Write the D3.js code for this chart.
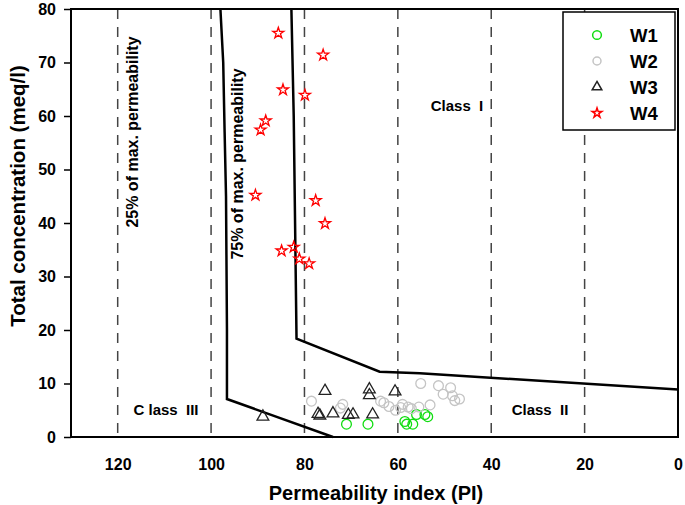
<!DOCTYPE html>
<html><head><meta charset="utf-8">
<script src="https://cdn.jsdelivr.net/npm/d3@7"></script>
<style>
body{margin:0;background:#fff;}
svg{display:block;font-family:"Liberation Sans",Arial,sans-serif;}
</style></head>
<body><svg id="c" width="685" height="505"></svg>
<script>
// ---- data ----
const xTicks = [120,100,80,60,40,20,0];
const yTicks = [0,10,20,30,40,50,60,70,80];
const dashedPI = [120,100,80,60,40,20];
const seriesNames = ["W1","W2","W3","W4"];
const w1 = [[71.0,2.4],[66.4,2.4],[58.5,2.9],[58.1,2.4],[56.8,2.4],[56.0,4.2],[54.2,4.2],[53.6,3.8]];
const w2 = [[78.5,6.7],[71.8,6.1],[72.3,5.4],[63.7,6.7],[63.0,6.4],[61.9,5.7],[59.4,5.5],[59.0,6.1],[57.8,5.6],[57.1,5.3],[55.5,5.6],[53.1,6.0],[55.1,10.0],[51.3,9.6],[48.7,9.2],[50.3,8.0],[48.3,7.7],[46.8,7.1],[47.8,6.8],[60.5,5.0]];
const w3 = [[88.9,3.8],[75.6,8.6],[77.1,4.3],[76.7,4.0],[73.9,4.4],[70.6,4.1],[69.6,4.2],[66.1,8.9],[66.1,7.8],[65.4,4.2],[60.6,8.5]];
const w4 = [[85.6,75.5],[76.0,71.4],[84.6,64.9],[79.9,63.9],[88.3,59.1],[89.4,57.4],[90.5,45.2],[77.6,44.2],[75.6,39.9],[84.9,34.8],[82.3,35.5],[81.1,33.3],[79.0,32.4]];
const line75 = [[98.0,80],[97.4,70],[97.1,57],[96.8,45],[96.6,20],[96.6,7.1],[73.9,0]];
const line25 = [[82.8,80],[82.3,60],[81.7,18.4],[63.9,12.2],[55.3,11.9],[0,8.9]];

// ---- layout ----
const svg = d3.select("#c");
const L=71,R=678,T=9,B=437;
const x = d3.scaleLinear().domain([130,0]).range([L,R]);
const y = d3.scaleLinear().domain([0,80]).range([B,T]);

// dashed vertical lines
svg.selectAll(".dl").data(dashedPI).join("line")
  .attr("x1",d=>x(d)).attr("x2",d=>x(d)).attr("y1",y(80)).attr("y2",y(0))
  .attr("stroke","#444").attr("stroke-width",1.5).attr("stroke-dasharray","10,8");

// boundary lines
const lg = d3.line().x(d=>x(d[0])).y(d=>y(d[1]));
[line75,line25].forEach(l=>svg.append("path").attr("d",lg(l)).attr("fill","none")
  .attr("stroke","#000").attr("stroke-width",2.5).attr("stroke-linejoin","miter"));

// frame
svg.append("rect").attr("x",L).attr("y",T).attr("width",R-L).attr("height",B-T)
  .attr("fill","none").attr("stroke","#000").attr("stroke-width",2);

// axes
const yAx = svg.append("g").attr("transform",`translate(${L},0)`)
  .call(d3.axisLeft(y).tickValues(yTicks).tickSize(7).tickPadding(8));
const xAx = svg.append("g").attr("transform",`translate(0,${B})`)
  .call(d3.axisBottom(x).tickValues(xTicks).tickSize(0).tickPadding(22));
[yAx,xAx].forEach(g=>{
  g.select(".domain").remove();
  g.selectAll("text").attr("font-size",16).attr("font-weight","bold").attr("fill","#000")
    .attr("font-family","Liberation Sans, Arial, sans-serif");
  g.selectAll("line").attr("stroke","#000").attr("stroke-width",1.5);
});

// axis titles
svg.append("text").attr("x",376).attr("y",500).attr("text-anchor","middle")
  .attr("font-size",20).attr("font-weight","bold").text("Permeability index (PI)");
svg.append("text").attr("transform","translate(17,196) rotate(-90)").attr("text-anchor","middle")
  .attr("dominant-baseline","central")
  .attr("font-size",20.5).attr("font-weight","bold").text("Total concentration (meq/l)");

// annotations
const ann = (t,xx,yy,rot,fs)=>svg.append("text")
  .attr("transform",`translate(${xx},${yy})`+(rot?" rotate(-90)":""))
  .attr("text-anchor","middle").attr("dominant-baseline","central")
  .attr("font-size",fs).attr("font-weight","bold").style("white-space","pre").text(t);
ann("25% of max. permeability",132,132,true,16);
ann("75% of max. permeability",237,164,true,16);
ann("C lass  III",166,409,false,15);
ann("Class  I",457,105,false,15);
ann("Class  II",540,409,false,15);

// markers
const styles = {
  W1:{data:w1,type:d3.symbolCircle,size:75,lsize:60,color:"#11dd11"},
  W2:{data:w2,type:d3.symbolCircle,size:75,lsize:50,color:"#c4c4c4"},
  W3:{data:w3,type:d3.symbolTriangle,size:60,lsize:40,color:"#222"},
  W4:{data:w4,type:d3.symbolStar,size:38,lsize:30,color:"#ff0000"}
};
seriesNames.forEach(n=>{
  const s=styles[n];
  svg.append("g").selectAll("path").data(s.data).join("path")
    .attr("transform",d=>`translate(${x(d[0])},${y(d[1])})`)
    .attr("d",d3.symbol().type(s.type).size(s.size)())
    .attr("fill","none").attr("stroke",s.color).attr("stroke-width",1.3);
});

// legend
svg.append("rect").attr("x",563).attr("y",12).attr("width",112).attr("height",118)
  .attr("fill","#fff").attr("stroke","#000").attr("stroke-width",1.5);
seriesNames.forEach((n,i)=>{
  const s=styles[n], yy=35+i*26;
  svg.append("path").attr("transform",`translate(597,${yy})`)
    .attr("d",d3.symbol().type(s.type).size(s.lsize)())
    .attr("fill","none").attr("stroke",s.color).attr("stroke-width",1.5);
  svg.append("text").attr("x",630).attr("y",yy).attr("dominant-baseline","central")
    .attr("font-size",18.5).attr("font-weight","bold").text(n);
});
</script></body></html>
